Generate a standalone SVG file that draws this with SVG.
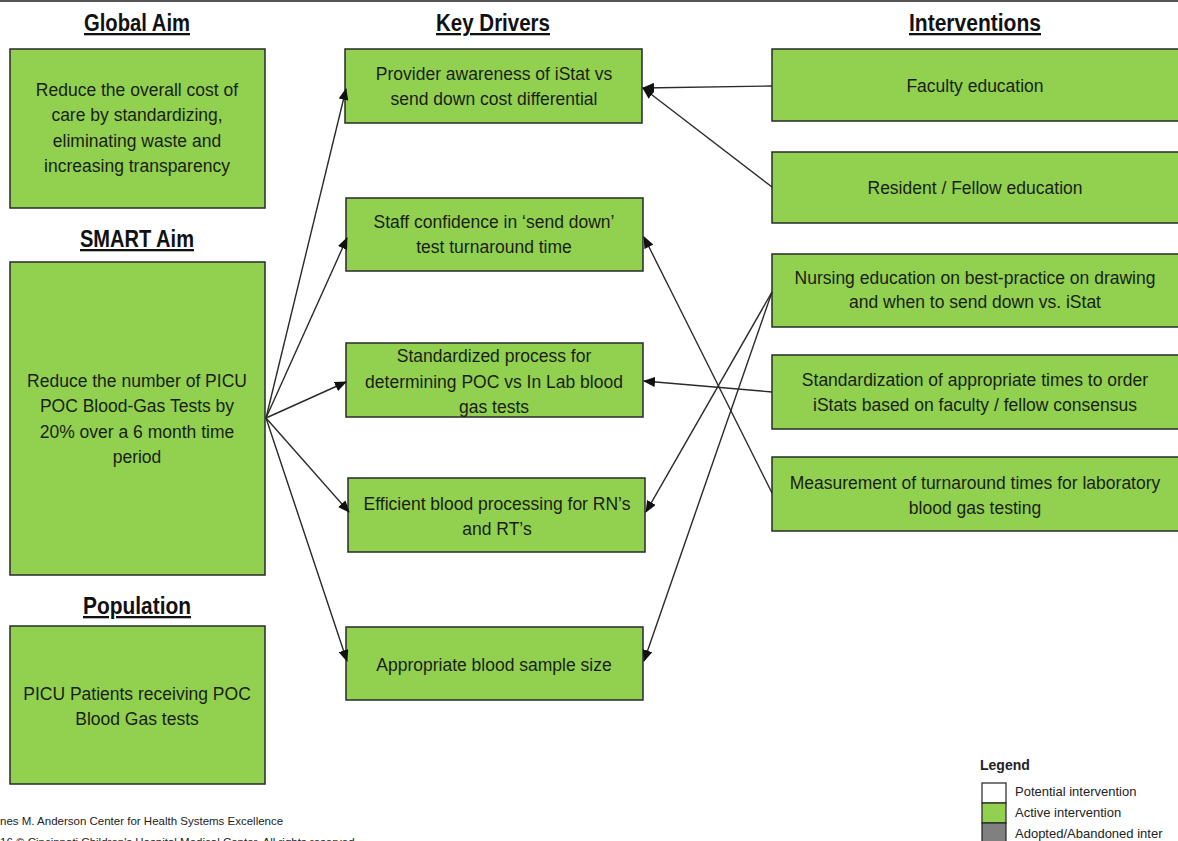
<svg xmlns="http://www.w3.org/2000/svg" width="1178" height="841" viewBox="0 0 1178 841">
<style>
.box{fill:#92D050;stroke:#2a2a2a;stroke-width:1.5}
.t{font-family:"Liberation Sans",Arial,sans-serif;font-size:17.5px;fill:#1a1f14;text-anchor:middle}
.h{font-family:"Liberation Sans",Arial,sans-serif;font-size:23px;font-weight:bold;fill:#111;text-anchor:middle;text-decoration:underline}
.c{stroke:#2a2a2a;stroke-width:1.4;fill:none;marker-end:url(#ah)}
.lg{font-family:"Liberation Sans",Arial,sans-serif;font-size:13px;fill:#222}
.ft{font-family:"Liberation Sans",Arial,sans-serif;font-size:11.5px;fill:#222}
</style>
<defs>
<marker id="ah" markerUnits="userSpaceOnUse" markerWidth="12" markerHeight="10" refX="11" refY="5" orient="auto">
<path d="M0,0 L12,5 L0,10 Z" fill="#111"/>
</marker>
</defs>
<rect x="0" y="0" width="1178" height="841" fill="#fff"/>
<line x1="0" y1="1" x2="1178" y2="1" stroke="#555" stroke-width="2"/>

<g id="headers">
<text class="h" x="137" y="31" textLength="106" lengthAdjust="spacingAndGlyphs">Global Aim</text>
<text class="h" x="493" y="31" textLength="114" lengthAdjust="spacingAndGlyphs">Key Drivers</text>
<text class="h" x="975" y="31" textLength="132" lengthAdjust="spacingAndGlyphs">Interventions</text>
<text class="h" x="137" y="247" textLength="114" lengthAdjust="spacingAndGlyphs">SMART Aim</text>
<text class="h" x="137" y="614" textLength="108" lengthAdjust="spacingAndGlyphs">Population</text>
</g>

<g id="global-aim">
<rect class="box" x="10" y="49" width="255" height="159"/>
<text class="t" x="137" y="96">Reduce the overall cost of</text>
<text class="t" x="137" y="121">care by standardizing,</text>
<text class="t" x="137" y="147">eliminating waste and</text>
<text class="t" x="137" y="172">increasing transparency</text>
</g>

<g id="smart-aim">
<rect class="box" x="10" y="262" width="255" height="313"/>
<text class="t" x="137" y="387">Reduce the number of PICU</text>
<text class="t" x="137" y="412">POC Blood-Gas Tests by</text>
<text class="t" x="137" y="438">20% over a 6 month time</text>
<text class="t" x="137" y="463">period</text>
</g>

<g id="population">
<rect class="box" x="10" y="626" width="255" height="158"/>
<text class="t" x="137" y="700">PICU Patients receiving POC</text>
<text class="t" x="137" y="725">Blood Gas tests</text>
</g>

<g id="kd1">
<rect class="box" x="345" y="49" width="297" height="74"/>
<text class="t" x="494" y="80">Provider awareness of iStat vs</text>
<text class="t" x="494" y="105">send down cost differential</text>
</g>
<g id="kd2">
<rect class="box" x="346" y="198" width="297" height="73"/>
<text class="t" x="494" y="228">Staff  confidence in ‘send down’</text>
<text class="t" x="494" y="253">test turnaround time</text>
</g>
<g id="kd3">
<rect class="box" x="346" y="343" width="297" height="74"/>
<text class="t" x="494" y="362">Standardized process for</text>
<text class="t" x="494" y="388">determining POC vs In Lab blood</text>
<text class="t" x="494" y="413">gas tests</text>
</g>
<g id="kd4">
<rect class="box" x="348" y="478" width="297" height="74"/>
<text class="t" x="497" y="510">Efficient blood processing for RN’s</text>
<text class="t" x="497" y="535">and RT’s</text>
</g>
<g id="kd5">
<rect class="box" x="346" y="627" width="297" height="73"/>
<text class="t" x="494" y="671">Appropriate blood sample size</text>
</g>

<g id="int1">
<rect class="box" x="772" y="49" width="410" height="72"/>
<text class="t" x="975" y="92">Faculty education</text>
</g>
<g id="int2">
<rect class="box" x="772" y="152" width="410" height="71"/>
<text class="t" x="975" y="194">Resident / Fellow education</text>
</g>
<g id="int3">
<rect class="box" x="772" y="254" width="410" height="73"/>
<text class="t" x="975" y="284">Nursing education on best-practice on drawing</text>
<text class="t" x="975" y="308">and when to send down vs. iStat</text>
</g>
<g id="int4">
<rect class="box" x="772" y="355" width="410" height="74"/>
<text class="t" x="975" y="386">Standardization of appropriate times to order</text>
<text class="t" x="975" y="411">iStats based on faculty / fellow consensus</text>
</g>
<g id="int5">
<rect class="box" x="772" y="457" width="410" height="74"/>
<text class="t" x="975" y="489">Measurement of turnaround times for laboratory</text>
<text class="t" x="975" y="514">blood gas testing</text>
</g>

<g id="connectors">
<line class="c" x1="266" y1="418" x2="346" y2="89"/>
<line class="c" x1="266" y1="418" x2="347" y2="238"/>
<line class="c" x1="266" y1="418" x2="346" y2="382"/>
<line class="c" x1="266" y1="418" x2="349" y2="512"/>
<line class="c" x1="266" y1="418" x2="347" y2="661"/>
<line class="c" x1="772" y1="86" x2="643" y2="88"/>
<line class="c" x1="772" y1="187" x2="643" y2="88"/>
<line class="c" x1="772" y1="292" x2="646" y2="512"/>
<line class="c" x1="772" y1="292" x2="644" y2="661"/>
<line class="c" x1="772" y1="392" x2="644" y2="381"/>
<line class="c" x1="772" y1="493" x2="644" y2="237"/>
</g>

<g id="legend">
<text x="980" y="770" font-family="Liberation Sans, Arial, sans-serif" font-size="14" font-weight="bold" fill="#222">Legend</text>
<rect x="982" y="783" width="24" height="20" fill="#fff" stroke="#222" stroke-width="1.2"/>
<rect x="982" y="803" width="24" height="20" fill="#92D050" stroke="#222" stroke-width="1.2"/>
<rect x="982" y="823" width="24" height="20" fill="#808080" stroke="#222" stroke-width="1.2"/>
<text class="lg" x="1015" y="796">Potential  intervention</text>
<text class="lg" x="1015" y="817">Active intervention</text>
<text class="lg" x="1015" y="838">Adopted/Abandoned inter</text>
</g>

<g id="footer">
<text class="ft" x="0" y="825">nes M. Anderson Center for Health Systems Excellence</text>
<text class="ft" x="0" y="846">16 © Cincinnati Children's Hospital Medical Center. All rights reserved.</text>
</g>
</svg>
